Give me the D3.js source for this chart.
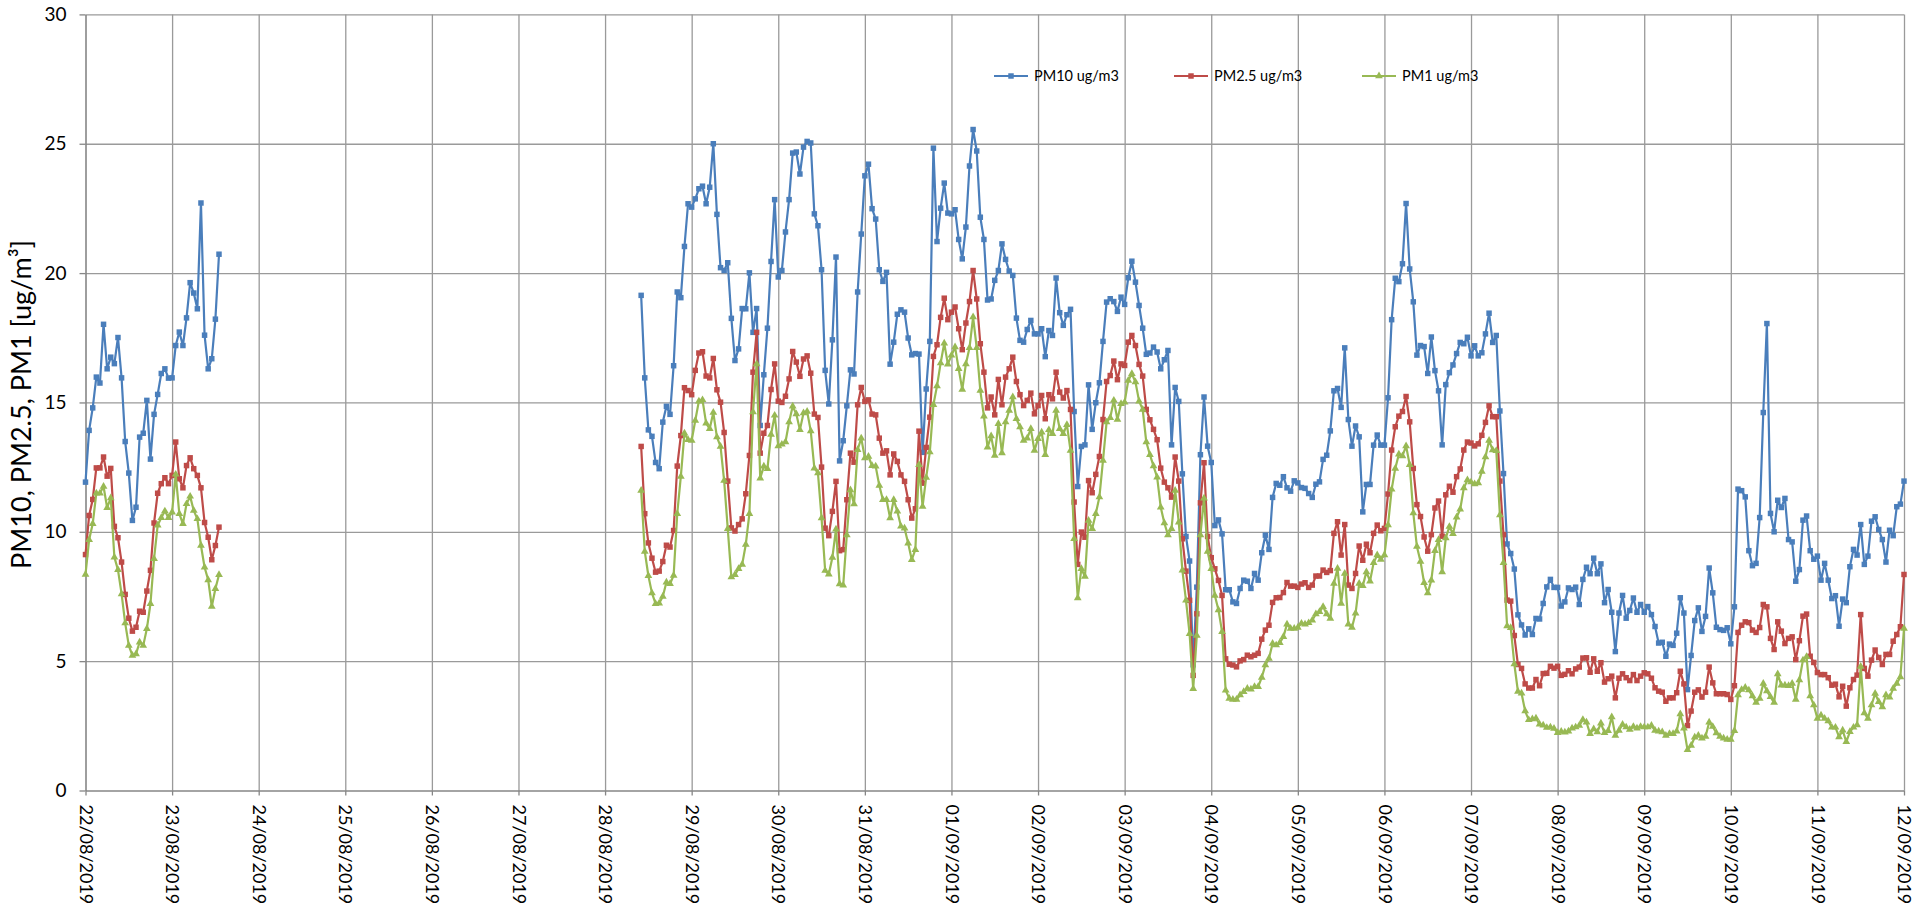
<!DOCTYPE html>
<html>
<head>
<meta charset="utf-8">
<script src="https://cdn.jsdelivr.net/npm/d3@7"></script>
<style>
  body { margin: 0; background: #fff; }
  text { font-family: Lato, "Open Sans", sans-serif; fill: #000; }
</style>
</head>
<body>
<script>
var w = 1928;
var h = 907;

var startDate = new Date(2019, 7, 22);
var endDate = new Date(2019, 8, 12);

var seriesNames = ["PM10 ug/m3", "PM2.5 ug/m3", "PM1 ug/m3"];
var seriesColors = ["#4A7EBB", "#BE4B48", "#98B954"];
var yTicks = [0, 5, 10, 15, 20, 25, 30];

// hourly readings; block A starts 22/08 00:00, block B starts 28/08 10:00
var startA = 0;
var startB = 154;

var pm10A = [11.92, 13.92, 14.79, 15.98, 15.75, 18.02, 16.3, 16.75, 16.5, 17.51, 15.95, 13.49, 12.27, 10.44, 10.95, 13.66, 13.81, 15.08, 12.81, 14.54, 15.31, 16.12, 16.3, 15.94, 15.95, 17.2, 17.72, 17.2, 18.27, 19.63, 19.23, 18.62, 22.71, 17.6, 16.3, 16.69, 18.22, 20.73];
var pm25A = [9.12, 10.63, 11.25, 12.47, 12.47, 12.89, 12.15, 12.45, 10.21, 9.77, 8.83, 7.58, 6.66, 6.16, 6.31, 6.93, 6.89, 7.71, 8.51, 10.34, 11.49, 11.86, 12.09, 11.86, 12.18, 13.47, 12.05, 11.7, 12.56, 12.86, 12.44, 12.18, 11.7, 10.36, 9.79, 8.92, 9.47, 10.18];
var pm1A = [8.35, 9.69, 10.31, 11.49, 11.49, 11.75, 10.93, 11.31, 9.02, 8.53, 7.6, 6.47, 5.6, 5.22, 5.28, 5.73, 5.6, 6.25, 7.22, 8.96, 10.25, 10.54, 10.8, 10.54, 10.76, 12.22, 10.7, 10.31, 11.08, 11.37, 10.82, 10.5, 9.47, 8.63, 8.14, 7.11, 7.8, 8.34];

var pm10B = [
  19.14, 15.95, 13.94, 13.69, 12.68, 12.44, 14.24, 14.85, 14.54, 16.42, 19.27, 19.05, 21.03, 22.68, 22.55, 22.87, 23.26, 23.36, 22.68, 23.32, 25.0, 22.27, 20.21, 20.1, 20.4, 18.25, 16.62, 17.07, 18.63, 18.62, 20.01, 17.71, 18.63, 14.11, 16.07, 17.87, 20.45, 22.84, 19.85, 20.1, 21.59, 22.84,
  24.64, 24.68, 23.83, 24.87, 25.09, 25.03, 22.29, 21.83, 20.13, 16.24, 14.94, 17.42, 20.62, 12.74, 13.52, 14.87, 16.26, 16.1, 19.27, 21.51, 23.76, 24.21, 22.49, 22.09, 20.13, 19.68, 20.03, 16.48, 17.33, 18.41, 18.58, 18.49, 17.49, 16.84, 16.89, 16.87, 13.07, 15.52, 17.36, 24.83, 21.22, 22.51, 23.48, 22.32,
  22.29, 22.45, 21.3, 20.55, 21.78, 24.14, 25.55, 24.72, 22.16, 21.3, 18.96, 19.0, 19.72, 20.1, 21.13, 20.53, 20.08, 19.91, 18.26, 17.4, 17.33, 17.82, 18.17, 17.65, 17.65, 17.85, 16.77, 17.78, 17.59, 19.81, 18.47, 17.98, 18.39, 18.6, 14.65, 11.75, 13.3, 13.36, 15.68, 13.96, 14.99, 15.76, 17.36, 18.88,
  19.01, 18.9, 18.52, 19.07, 18.79, 19.82, 20.46, 19.65, 18.75, 17.87, 16.86, 16.91, 17.14, 16.95, 16.3, 16.65, 17.01, 13.36, 15.58, 15.04, 12.24, 9.82, 8.87, 4.86, 7.86, 12.98, 15.21, 13.31, 12.68, 10.24, 10.46, 9.92, 7.76, 7.76,
  7.29, 7.23, 7.81, 8.13, 8.09, 7.81, 8.39, 8.13, 9.19, 9.87, 9.32, 11.33, 11.87, 11.8, 12.13, 11.7, 11.57, 11.97, 11.89, 11.71, 11.68, 11.48, 11.33, 11.84, 11.93, 12.8, 12.96, 13.9, 15.45, 15.54, 14.81, 17.11, 14.34, 13.31, 14.09, 13.67, 10.77, 11.83, 11.83, 13.35, 13.74, 13.35, 13.35, 15.18, 18.2, 19.8,
  19.67, 20.36, 22.69, 20.16, 18.89, 16.83, 17.2, 17.16, 16.12, 17.53, 16.23, 15.45, 13.36, 15.69, 16.15, 16.45, 16.89, 17.32, 17.27, 17.52, 16.8, 17.19, 16.8, 16.92, 17.65, 18.45, 17.32, 17.59, 14.67, 12.25, 9.53, 9.16, 8.56, 6.79, 6.4, 6.01, 6.25, 6.03, 6.65, 6.63, 7.23, 7.87, 8.16, 7.85, 7.85, 7.13, 7.29, 7.83,
  7.77, 7.86, 7.19, 8.16, 8.63, 8.38, 8.98, 8.38, 8.76, 7.26, 7.77, 6.89, 5.37, 6.86, 7.54, 6.66, 6.96, 7.44, 6.89, 7.19, 6.89, 7.11, 6.8, 6.34, 5.7, 5.73, 5.19, 5.66, 5.61, 6.08, 7.45, 6.86, 3.9, 5.22, 6.57, 7.06, 6.15, 6.73, 8.6, 7.64, 6.31, 6.22, 6.19, 6.29, 5.67,
  7.1, 11.65, 11.59, 11.35, 9.27, 8.69, 8.78, 10.55, 14.61, 18.05, 10.71, 10.0, 11.22, 10.94, 11.29, 9.7, 9.61, 8.09, 8.54, 10.45, 10.61, 9.27, 8.94, 9.06, 8.13, 8.78, 8.13, 7.42, 7.53, 6.35, 7.4, 7.26, 8.65, 9.32, 9.1, 10.28, 8.74, 9.06, 10.41, 10.58, 10.09, 9.7, 8.83, 10.06, 9.85, 10.97, 11.07, 11.96
];

var pm25B = [
  13.3, 10.7, 9.57, 8.98, 8.44, 8.48, 8.85, 9.48, 9.41, 10.05, 12.54, 13.72, 15.57, 15.46, 15.3, 16.24, 16.91, 16.96, 16.02, 15.95, 16.7, 15.49, 15.01, 13.84, 11.96, 10.15, 10.03, 10.28, 10.5, 11.47, 12.95, 16.17, 17.71, 13.04, 13.81, 14.11, 15.5, 16.49, 15.05, 15.0, 15.24, 15.91,
  16.97, 16.56, 16.01, 16.68, 16.8, 16.13, 14.55, 14.42, 12.5, 10.14, 9.85, 10.79, 11.95, 9.27, 9.31, 11.24, 13.04, 12.69, 14.91, 15.58, 15.04, 15.1, 14.55, 14.52, 13.62, 13.04, 13.13, 12.2, 13.01, 12.72, 12.2, 11.95, 11.24, 10.53, 10.89, 13.89, 11.88, 13.26, 14.43, 16.78, 17.23, 18.29, 19.03, 18.2,
  18.49, 18.69, 17.85, 17.04, 18.07, 18.9, 20.1, 19.0, 17.27, 16.17, 14.79, 15.21, 14.52, 15.89, 14.91, 15.98, 16.3, 16.75, 15.81, 15.3, 14.88, 15.08, 15.36, 14.56, 14.88, 15.27, 14.37, 15.3, 15.14, 16.17, 15.4, 15.17, 15.46, 14.73, 11.15, 8.74, 9.99, 9.79, 11.98, 11.51, 12.22, 12.91, 14.34, 15.81,
  16.04, 16.6, 15.88, 16.49, 16.43, 17.33, 17.59, 17.2, 16.47, 16.02, 14.73, 14.33, 13.96, 13.56, 12.46, 11.92, 11.7, 11.34, 12.89, 11.96, 9.73, 8.48, 7.35, 4.45, 6.83, 11.12, 12.67, 9.82, 9.0, 8.57, 8.12, 7.54, 5.09, 4.88,
  4.85, 4.78, 5.01, 5.06, 5.23, 5.17, 5.23, 5.3, 5.85, 6.2, 6.39, 7.27, 7.45, 7.46, 7.65, 8.04, 7.9, 7.9, 7.85, 7.98, 8.03, 7.85, 7.94, 8.29, 8.29, 8.52, 8.43, 8.5, 9.94, 10.39, 9.1, 10.28, 7.94, 7.81, 8.39, 9.45, 8.9, 9.52, 9.19, 9.94, 10.26, 10.04, 10.13, 11.46, 13.16, 14.06, 14.47,
  14.65, 15.23, 14.25, 12.45, 11.05, 10.59, 9.8, 9.25, 9.89, 10.92, 11.19, 9.83, 11.43, 11.76, 11.53, 12.13, 12.43, 13.16, 13.47, 13.43, 13.32, 13.4, 13.73, 14.23, 14.87, 14.45, 14.45, 11.96, 9.89, 7.36, 7.32, 5.99, 4.87, 4.72, 4.12, 3.96, 3.96, 4.29, 4.05, 4.52, 4.53, 4.8, 4.73, 4.8, 4.45, 4.49, 4.63,
  4.51, 4.7, 4.77, 5.12, 5.13, 4.57, 5.09, 4.61, 4.94, 4.19, 4.32, 4.42, 3.58, 4.34, 4.51, 4.36, 4.25, 4.48, 4.25, 4.42, 4.55, 4.51, 4.34, 3.97, 3.84, 3.8, 3.45, 3.58, 3.58, 3.78, 4.61, 4.12, 2.51, 3.07, 3.8, 3.89, 3.61, 3.8, 4.77, 4.16, 3.74, 3.74, 3.74, 3.71, 3.52,
  4.05, 6.11, 6.39, 6.52, 6.49, 6.2, 6.11, 6.3, 7.19, 7.1, 5.88, 5.45, 6.52, 6.16, 5.68, 5.88, 5.94, 5.06, 5.79, 6.74, 6.82, 5.19, 4.95, 4.56, 4.48, 4.48, 4.36, 4.07, 4.11, 3.62, 4.03, 3.26, 3.97, 4.29, 4.46, 6.8, 4.72, 4.42, 5.04, 5.43, 5.14, 4.87, 5.26, 5.26, 5.77, 6.03, 6.33, 8.35
];

var pm1B = [
  11.6, 9.24, 8.3, 7.63, 7.22, 7.24, 7.5, 8.05, 7.99, 8.31, 10.7, 12.14, 13.81, 13.56, 13.53, 14.3, 15.05, 15.1, 14.2, 13.98, 14.61, 13.66, 13.3, 11.98, 10.12, 8.25, 8.34, 8.57, 8.74, 9.51, 10.7, 14.63, 16.49, 12.07, 12.53, 12.44, 13.76, 14.5, 13.32, 13.38, 13.47, 14.24,
  14.85, 14.55, 13.94, 14.59, 14.65, 13.9, 12.46, 12.27, 10.53, 8.5, 8.36, 9.01, 10.1, 7.98, 7.93, 9.88, 11.62, 11.07, 13.17, 13.62, 12.85, 12.91, 12.55, 12.53, 11.79, 11.24, 11.24, 10.53, 11.24, 10.79, 10.21, 10.14, 9.56, 8.92, 9.31, 12.59, 10.98, 12.1, 13.08, 14.91, 15.64, 16.52, 17.29, 16.48,
  16.82, 17.14, 16.3, 15.5, 16.49, 17.11, 18.3, 17.11, 15.46, 14.47, 13.27, 13.7, 12.95, 14.18, 13.05, 14.24, 14.69, 15.21, 14.37, 14.05, 13.53, 13.62, 13.98, 13.14, 13.6, 13.85, 12.98, 13.94, 13.79, 14.69, 13.98, 13.79, 14.14, 13.14, 9.73, 7.44, 8.57, 8.27, 10.44, 10.12, 10.7, 11.34, 12.76, 14.24,
  14.41, 15.08, 14.34, 14.95, 15.01, 15.85, 16.11, 15.79, 15.05, 14.73, 13.47, 12.98, 12.54, 12.11, 10.95, 10.34, 9.88, 10.12, 11.6, 10.37, 8.51, 7.35, 6.06, 3.93, 5.99, 9.88, 11.3, 9.24, 8.57, 7.54, 6.98, 6.14, 3.87, 3.56,
  3.52, 3.52, 3.69, 3.82, 3.94, 3.91, 4.01, 4.01, 4.37, 4.85, 5.1, 5.68, 5.62, 5.71, 5.94, 6.43, 6.26, 6.26, 6.3, 6.46, 6.43, 6.48, 6.58, 6.82, 6.91, 7.1, 6.82, 6.65, 8.0, 8.58, 7.23, 8.39, 6.43, 6.3, 6.85, 8.0, 7.91, 8.45, 8.09, 8.8, 9.1, 8.93, 9.1, 10.26, 11.64, 12.45, 13.0,
  12.93, 13.32, 12.59, 10.73, 9.43, 8.85, 8.03, 7.63, 8.13, 9.27, 9.69, 8.45, 9.76, 10.2, 9.92, 10.56, 10.87, 11.69, 12.0, 11.92, 11.85, 11.89, 12.33, 12.89, 13.53, 13.16, 13.13, 10.65, 8.8, 6.36, 6.29, 4.89, 3.83, 3.76, 3.07, 2.73, 2.76, 2.79, 2.56, 2.52, 2.43, 2.45, 2.4, 2.23, 2.28, 2.25, 2.29,
  2.41, 2.45, 2.51, 2.74, 2.64, 2.19, 2.38, 2.26, 2.6, 2.23, 2.31, 2.84, 2.13, 2.32, 2.55, 2.45, 2.36, 2.47, 2.41, 2.47, 2.45, 2.45, 2.51, 2.32, 2.29, 2.26, 2.13, 2.19, 2.19, 2.29, 2.96, 2.41, 1.57, 1.74, 2.06, 2.13, 2.02, 2.09, 2.64, 2.47, 2.22, 2.09, 2.02, 1.97, 1.97,
  2.31, 3.69, 3.9, 3.98, 3.88, 3.65, 3.4, 3.56, 4.14, 3.85, 3.62, 3.4, 4.5, 4.07, 4.07, 4.05, 4.14, 3.52, 4.27, 5.04, 5.17, 3.65, 3.3, 2.78, 2.91, 2.78, 2.69, 2.44, 2.44, 2.07, 2.33, 1.88, 2.27, 2.44, 2.53, 4.79, 3.0, 2.78, 3.3, 3.75, 3.43, 3.23, 3.69, 3.6, 3.94, 4.14, 4.39, 6.26
];

// plot area edges (named to avoid clashing with window.top)
var plotLeft = 85.5, plotRight = 1904, plotTop = 14.4, plotBottom = 790.5;

function toPoints(a, b) {
  var pts = a.map(function(v, i) {
    return {t: d3.timeHour.offset(startDate, startA + i), v: v};
  });
  pts.push({t: d3.timeHour.offset(startDate, startA + a.length), v: null});
  b.forEach(function(v, i) {
    pts.push({t: d3.timeHour.offset(startDate, startB + i), v: v});
  });
  return pts;
}

var dataset = [toPoints(pm10A, pm10B), toPoints(pm25A, pm25B), toPoints(pm1A, pm1B)];

var xScale = d3.scaleTime()
               .domain([startDate, endDate])
               .range([plotLeft, plotRight]);

var yScale = d3.scaleLinear()
               .domain([0, 30])
               .range([plotBottom, plotTop]);

var days = d3.timeDay.range(startDate, d3.timeDay.offset(endDate, 1));

var svg = d3.select("body")
            .append("svg")
            .attr("width", w)
            .attr("height", h);

// Grid
var gridY = svg.append("g")
   .attr("transform", "translate(" + plotLeft + ",0)")
   .call(d3.axisLeft(yScale).tickValues(yTicks.slice(1)).tickSize(-(plotRight - plotLeft)).tickFormat(""));
gridY.select(".domain").remove();
gridY.selectAll("line").attr("stroke", "#9a9a9a").attr("stroke-width", 1.3);

var gridX = svg.append("g")
   .attr("transform", "translate(0," + plotBottom + ")")
   .call(d3.axisBottom(xScale).tickValues(days.slice(1)).tickSize(-(plotBottom - plotTop)).tickFormat(""));
gridX.select(".domain").remove();
gridX.selectAll("line").attr("stroke", "#9a9a9a").attr("stroke-width", 1.3);

// Axes
var yAxis = svg.append("g")
   .attr("transform", "translate(" + plotLeft + ",0)")
   .call(d3.axisLeft(yScale).tickValues(yTicks).tickSize(6).tickSizeOuter(0).tickPadding(13));
yAxis.select(".domain").attr("stroke", "#868686").attr("stroke-width", 1.6);
yAxis.selectAll("line").attr("stroke", "#868686").attr("stroke-width", 1.3);
yAxis.selectAll("text").style("font-size", "19px");

var xAxis = svg.append("g")
   .attr("transform", "translate(0," + plotBottom + ")")
   .call(d3.axisBottom(xScale).tickValues(days).tickSize(5).tickSizeOuter(0)
            .tickFormat(d3.timeFormat("%d/%m/%Y")));
xAxis.select(".domain").attr("stroke", "#868686").attr("stroke-width", 1.6);
xAxis.selectAll("line").attr("stroke", "#868686").attr("stroke-width", 1.3);
xAxis.selectAll("text")
     .attr("transform", "rotate(90)")
     .attr("x", 14)
     .attr("y", 0)
     .attr("dy", "0.35em")
     .style("text-anchor", "start")
     .style("font-size", "18px");

svg.append("text")
   .attr("transform", "translate(31," + ((plotTop + plotBottom) / 2 + 2) + ") rotate(-90)")
   .attr("text-anchor", "middle")
   .style("font-size", "27px")
   .text("PM10, PM2.5, PM1 [ug/m³]");

// Series
var line = d3.line()
             .defined(function(d) { return d.v != null; })
             .x(function(d) { return xScale(d.t); })
             .y(function(d) { return yScale(d.v); });

var square = d3.symbol().type(d3.symbolSquare).size(30);
var triangle = d3.symbol().type(d3.symbolTriangle).size(26);

dataset.forEach(function(series, k) {
  svg.append("path")
     .datum(series)
     .attr("d", line)
     .attr("fill", "none")
     .attr("stroke", seriesColors[k])
     .attr("stroke-width", 2.2)
     .attr("stroke-linejoin", "round");

  svg.selectAll(".m" + k)
     .data(series.filter(function(d) { return d.v != null; }))
     .enter()
     .append("path")
     .attr("class", "m" + k)
     .attr("d", k == 2 ? triangle : square)
     .attr("transform", function(d) {
       return "translate(" + xScale(d.t) + "," + yScale(d.v) + ")";
     })
     .attr("fill", seriesColors[k]);
});

// Legend
var legendX = [994, 1174, 1362];
var legend = svg.selectAll(".legend")
                .data(seriesNames)
                .enter()
                .append("g")
                .attr("transform", function(d, i) { return "translate(" + legendX[i] + ",76)"; });

legend.append("line")
      .attr("x1", 0)
      .attr("x2", 34)
      .attr("stroke", function(d, i) { return seriesColors[i]; })
      .attr("stroke-width", 2.2);

legend.append("path")
      .attr("d", function(d, i) { return i == 2 ? triangle() : square(); })
      .attr("transform", "translate(17,0)")
      .attr("fill", function(d, i) { return seriesColors[i]; });

legend.append("text")
      .attr("x", 40)
      .attr("dy", "0.35em")
      .style("font-size", "14.5px")
      .text(function(d) { return d; });
</script>
</body>
</html>
